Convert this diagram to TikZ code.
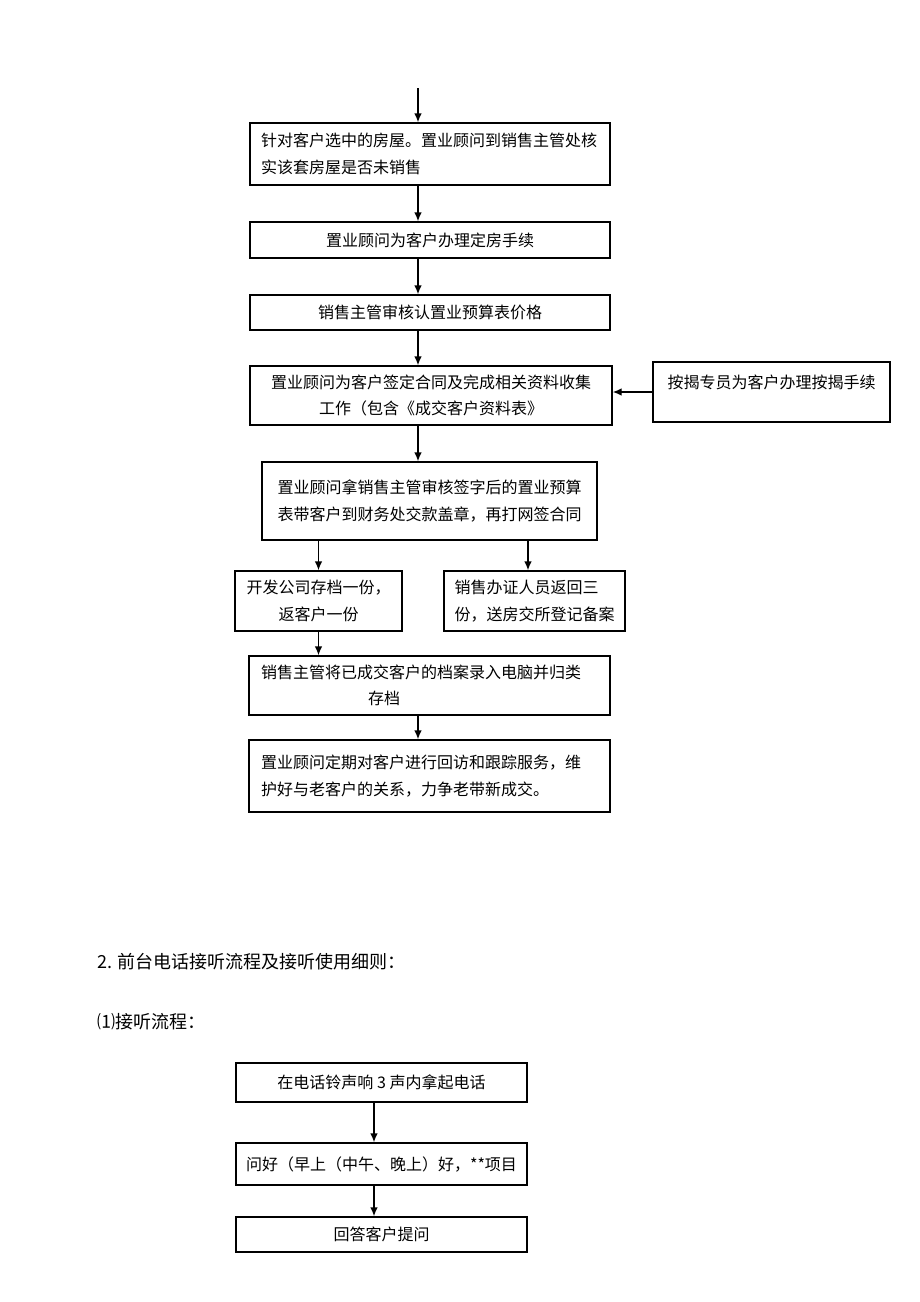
\documentclass[tikz,border=0pt]{standalone}
\usepackage{fontspec}
\setmainfont{Noto Sans CJK SC}
\usetikzlibrary{arrows.meta}
\usetikzlibrary{positioning}

\begin{document}
\begin{tikzpicture}[x=0.5pt, y=-0.5pt,
    stepbox/.style={rectangle, draw=black, line width=0.7pt, inner sep=0pt,
    text=black, font=\fontsize{8pt}{13.3pt}\selectfont},
    flow/.style={-{Latex[length=4.5pt,width=3.8pt]}, line width=0.7pt},
    heading/.style={anchor=west, inner sep=0pt, font=\fontsize{9pt}{11pt}\selectfont},]
    \useasboundingbox (0,0) rectangle (920,1302);
    \coordinate (axis) at (418,0);
    \coordinate (regline) at (528,0);
    \coordinate (phoneaxis) at (374,0);
    \coordinate (start) at (418,88);

    \node (check) [stepbox, minimum width=180pt, minimum height=31pt, inner xsep=5.5pt, text width=169pt, align=left] at (430,154)
    {针对客户选中的房屋。置业顾问到销售主管处核\\实该套房屋是否未销售};
    \node (reserve) [stepbox, minimum width=180pt, minimum height=18pt] at (430,240) {置业顾问为客户办理定房手续};
    \node (price) [stepbox, minimum width=180pt, minimum height=17.5pt] at (430,312.5) {销售主管审核认置业预算表价格};
    \node (sign) [stepbox, minimum width=181pt, minimum height=29.5pt, align=center] at (431,395.5)
    {置业顾问为客户签定合同及完成相关资料收集\\工作（包含《成交客户资料表》};
    \node (mortgage) [stepbox, minimum width=118.5pt, text height=13pt, text depth=17pt] at (771.5,392) {按揭专员为客户办理按揭手续};

    \node (budget) [stepbox, minimum width=167.5pt, minimum height=39pt, align=left] at (429.5,501)
    {置业顾问拿销售主管审核签字后的置业预算\\表带客户到财务处交款盖章，再打网签合同};
    \node (devcopy) [stepbox, minimum width=83.5pt, minimum height=30pt, align=center] at (318.5,601)
    {开发公司存档一份，\\返客户一份};
    \node (handle) [stepbox, minimum width=90.5pt, minimum height=30pt, align=left] at (534.5,601)
    {销售办证人员返回三\\份，送房交所登记备案};
    \node (archive) [stepbox, minimum width=180.5pt, minimum height=29.5pt, inner xsep=6pt, text width=168.5pt, align=left] at (429.5,685.5)
    {销售主管将已成交客户的档案录入电脑并归类\\\hspace*{53.5pt}存档};
    \node (revisit) [stepbox, minimum width=180.5pt, minimum height=36pt, inner xsep=6pt, text width=168.5pt, align=left] at (429.5,776)
    {置业顾问定期对客户进行回访和跟踪服务，维\\护好与老客户的关系，力争老带新成交。};

    \draw [flow] (start) -- (check.north -| axis);
    \draw [flow] (check.south -| axis) -- (reserve.north -| axis);
    \draw [flow] (reserve.south -| axis) -- (price.north -| axis);
    \draw [flow] (price.south -| axis) -- (sign.north -| axis);
    \draw [flow] (mortgage.west) -- (mortgage.west -| sign.east);
    \draw [flow] (sign.south -| axis) -- (budget.north -| axis);
    \draw [flow] (budget.south -| devcopy) -- (devcopy.north);
    \draw [flow] (budget.south -| regline) -- (handle.north -| regline);
    \draw [flow] (devcopy.south) -- (devcopy.south |- archive.north);
    \draw [flow] (archive.south -| axis) -- (revisit.north -| axis);

    % phone answering
    \node (part) [heading] at (97,962) {2. 前台电话接听流程及接听使用细则：};
    \node (sub) [heading] at (97,1022) {⑴接听流程：};

    \node (pickup) [stepbox, minimum width=145.5pt, minimum height=19.5pt] at (381.5,1082.5) {在电话铃声响 3 声内拿起电话};
    \node (greet) [stepbox, minimum width=145.5pt, minimum height=21pt] at (381.5,1164) {问好（早上（中午、晚上）好，**项目};
    \node (answer) [stepbox, minimum width=145.5pt, minimum height=17.5pt] at (381.5,1234.5) {回答客户提问};

    \draw [flow] (pickup.south -| phoneaxis) -- (greet.north -| phoneaxis);
    \draw [flow] (greet.south -| phoneaxis) -- (answer.north -| phoneaxis);
\end{tikzpicture}
\end{document}
